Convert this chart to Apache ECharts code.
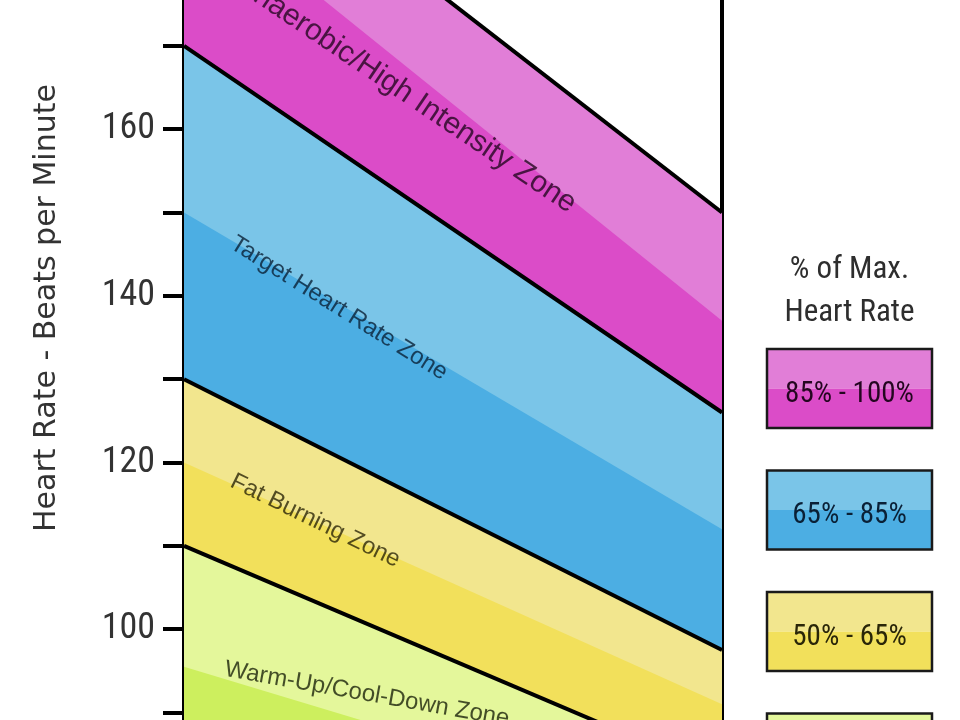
<!DOCTYPE html>
<html><head><meta charset="utf-8">
<script src="https://cdn.jsdelivr.net/npm/echarts@6/dist/echarts.min.js"></script>
<style>html,body{margin:0;padding:0;background:#fff}#c{width:960px;height:720px}</style>
</head><body><div id="c"></div>
<script>
// ---- data ----
const ages = [20, 70];
const hr100 = [200, 150];
const hr92 = [189, 137];
const hr85 = [170, 126];
const hr75 = [150, 112];
const hr65 = [130, 97.5];
const hr60 = [120, 91];
const hr55 = [110, 82.5];
const hr48 = [95.5, 76];
const yTicks = [90, 100, 110, 120, 130, 140, 150, 160, 170];
const yLabels = [100, 120, 140, 160];
const zoneNames = ['Anaerobic/High Intensity Zone', 'Target Heart Rate Zone', 'Fat Burning Zone', 'Warm-Up/Cool-Down Zone'];
const zoneAnchorAge = [40.7, 34.4, 32.2, 37.0];
const zoneAnchorHR = [164.2, 138.5, 113.0, 92.2];
const legendTitle = ['% of Max.', 'Heart Rate'];
const legendLabels = ['85% - 100%', '65% - 85%', '50% - 65%', ''];

// ---- styles ----
const NARROW = "'Liberation Sans Narrow','Roboto Condensed','DejaVu Sans Condensed','Liberation Sans',sans-serif";
const REG = "'Liberation Sans',Arial,sans-serif";
const zoneColors = [
  ['#e17ed7', '#db4cc8'],
  ['#7ac5e8', '#4caee3'],
  ['#f2e68e', '#f2e05b'],
  ['#e4f79b', '#cdef5e']
];
const zoneTextColors = ['#240620', '#0a2036', '#2a2608', '#1a220a'];
const zoneLabelCfg = [
  {rotate: -34, fontSize: 30},
  {rotate: -32, fontSize: 24},
  {rotate: -26, fontSize: 24},
  {rotate: -10, fontSize: 24}
];

function pts(arr) { return ages.map((a, i) => [a, arr[i]]); }
function fill(arr, color) {
  return {type: 'line', data: pts(arr), symbol: 'none', silent: true, z: 2,
    lineStyle: {width: 0, opacity: 0}, areaStyle: {color: color, opacity: 1, origin: 'start'}};
}
function edge(arr) {
  return {type: 'line', data: pts(arr), symbol: 'none', silent: true, z: 3,
    lineStyle: {color: '#000', width: 4}};
}

const series = [
  fill(hr100, zoneColors[0][0]),
  fill(hr92, zoneColors[0][1]),
  fill(hr85, zoneColors[1][0]),
  fill(hr75, zoneColors[1][1]),
  fill(hr65, zoneColors[2][0]),
  fill(hr60, zoneColors[2][1]),
  fill(hr55, zoneColors[3][0]),
  fill(hr48, zoneColors[3][1]),
  edge(hr100), edge(hr85), edge(hr65), edge(hr55),
  {
    type: 'scatter', symbolSize: 0, z: 5, silent: true,
    data: zoneNames.map((n, i) => ({
      name: n, value: [zoneAnchorAge[i], zoneAnchorHR[i]],
      label: {rotate: zoneLabelCfg[i].rotate, fontSize: zoneLabelCfg[i].fontSize, color: zoneTextColors[i]}
    })),
    label: {show: true, position: 'inside', formatter: '{b}', fontFamily: REG}
  }
];

// legend graphics
const boxX = 767, boxW = 165, boxH = 79, boxY0 = 349, boxStep = 121.5;
const graphics = [];
legendTitle.forEach((t, i) => {
  graphics.push({type: 'text', x: 849.5, y: 270 + i * 43, z: 10,
    style: {text: t, fill: '#2e2e2e', font: '31px ' + NARROW, textAlign: 'center', textVerticalAlign: 'middle'}});
});
legendLabels.forEach((t, i) => {
  const y = boxY0 + i * boxStep;
  graphics.push({type: 'rect', x: boxX, y: y, z: 10, shape: {width: boxW, height: boxH / 2}, style: {fill: zoneColors[i][0]}});
  graphics.push({type: 'rect', x: boxX, y: y + boxH / 2, z: 10, shape: {width: boxW, height: boxH / 2}, style: {fill: zoneColors[i][1]}});
  graphics.push({type: 'rect', x: boxX, y: y, z: 11, shape: {width: boxW, height: boxH}, style: {fill: 'none', stroke: '#1a1a1a', lineWidth: 2.5}});
  if (t) graphics.push({type: 'text', x: boxX + boxW / 2, y: y + boxH / 2 + 6, z: 12,
    style: {text: t, fill: zoneTextColors[i], font: '29px ' + NARROW, textAlign: 'center', textVerticalAlign: 'middle'}});
});

const chart = echarts.init(document.getElementById('c'), null, {renderer: 'canvas'});
chart.setOption({
  animation: false,
  backgroundColor: '#fff',
  grid: {left: 184, right: 238, top: 0, bottom: 0, containLabel: false},
  xAxis: {type: 'value', min: 20, max: 70, show: false},
  yAxis: [{
    type: 'value', min: 89.1, max: 175.5, position: 'left',
    axisLine: {show: true, onZero: false, lineStyle: {color: '#000', width: 4}},
    axisTick: {show: true, customValues: yTicks, length: 21, lineStyle: {color: '#000', width: 4}},
    axisLabel: {show: true, customValues: yLabels, margin: 29, fontSize: 36, fontFamily: NARROW, color: '#333', padding: [0, 0, 14, 0]},
    splitLine: {show: false},
    name: 'Heart Rate - Beats per Minute', nameLocation: 'middle', nameRotate: 90, nameGap: 122,
    nameTextStyle: {fontSize: 30, fontFamily: "'DejaVu Sans',sans-serif", color: '#333', padding: [0, 0, 0, 104]}
  }, {
    type: 'value', min: 89.1, max: 175.5, position: 'right',
    axisLine: {show: true, onZero: false, lineStyle: {color: '#000', width: 4}},
    axisTick: {show: false}, axisLabel: {show: false}, splitLine: {show: false}
  }],
  series: series,
  graphic: graphics
});
</script>
</body></html>
